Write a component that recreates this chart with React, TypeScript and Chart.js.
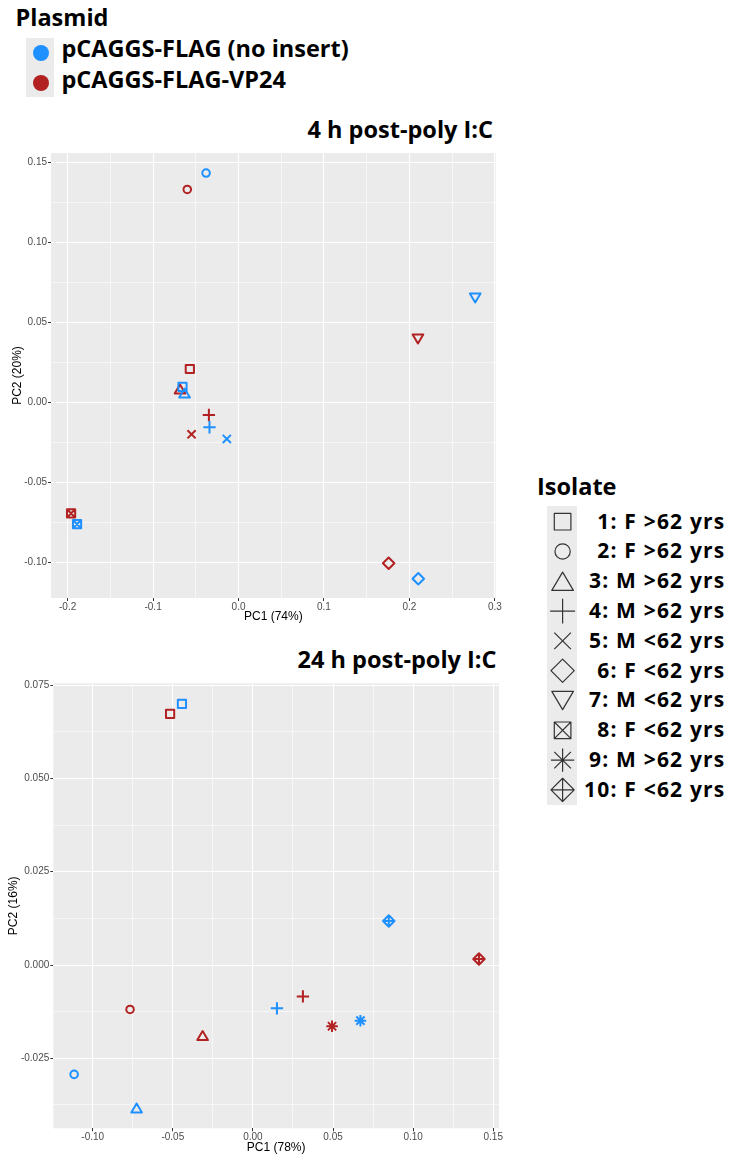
import React, { useEffect, useRef } from "react";
import { Chart, registerables } from "chart.js";

Chart.register(...registerables);

const BLUE = "#1E90FF";
const RED = "#B22222";
const PANEL_BG = "#EBEBEB";
const KEY_BG = "#EBEBEB";
const TITLE_FONT = "'Open Sans', 'DejaVu Sans', sans-serif";
const AXIS_FONT = "'Liberation Sans', Arial, sans-serif";

// ---------- legend data ----------
const plasmidLabels = ["pCAGGS-FLAG (no insert)", "pCAGGS-FLAG-VP24"];
const plasmidColors = [BLUE, RED];

const isolateLabels = [
  "1: F >62 yrs",
  "2: F >62 yrs",
  "3: M >62 yrs",
  "4: M >62 yrs",
  "5: M <62 yrs",
  "6: F <62 yrs",
  "7: M <62 yrs",
  "8: F <62 yrs",
  "9: M >62 yrs",
  "10: F <62 yrs",
];
const isolateShapes = [
  "square",
  "circle",
  "triangle",
  "plus",
  "cross",
  "diamond",
  "triangleDown",
  "squareCross",
  "asterisk",
  "diamondPlus",
];

// ---------- 4 h post-poly I:C ----------
const isolates4h = [1, 2, 3, 4, 5, 6, 7, 8];
const pc1NoInsert4h = [-0.0656, -0.038, -0.0632, -0.034, -0.0137, 0.2104, 0.277, -0.189];
const pc2NoInsert4h = [0.0096, 0.1433, 0.0058, -0.0156, -0.0229, -0.1103, 0.0652, -0.0761];
const pc1Vp24_4h = [-0.057, -0.06, -0.0685, -0.0347, -0.055, 0.1757, 0.21, -0.196];
const pc2Vp24_4h = [0.0208, 0.133, 0.0083, -0.0079, -0.02, -0.1006, 0.0396, -0.0694];
const xTicks4h = [-0.2, -0.1, 0, 0.1, 0.2, 0.3];
const xMinorTicks4h = [-0.15, -0.05, 0.05, 0.15, 0.25];
const yTicks4h = [-0.1, -0.05, 0, 0.05, 0.1, 0.15];
const yMinorTicks4h = [-0.075, -0.025, 0.025, 0.075, 0.125];
const xLimits4h = [-0.2195, 0.301];
const yLimits4h = [-0.1223, 0.1558];

// ---------- 24 h post-poly I:C ----------
const isolates24h = [1, 2, 3, 4, 9, 10];
const pc1NoInsert24h = [-0.0443, -0.1116, -0.0726, 0.015, 0.0671, 0.0848];
const pc2NoInsert24h = [0.07, -0.0293, -0.0383, -0.0116, -0.0149, 0.0118];
const pc1Vp24_24h = [-0.0517, -0.0767, -0.0314, 0.0312, 0.0494, 0.1411];
const pc2Vp24_24h = [0.0673, -0.0119, -0.0189, -0.0084, -0.0164, 0.0016];
const xTicks24h = [-0.1, -0.05, 0, 0.05, 0.1, 0.15];
const xMinorTicks24h = [-0.075, -0.025, 0.025, 0.075, 0.125];
const yTicks24h = [-0.025, 0, 0.025, 0.05, 0.075];
const yMinorTicks24h = [-0.0375, -0.0125, 0.0125, 0.0375, 0.0625];
const xLimits24h = [-0.1246, 0.1536];
const yLimits24h = [-0.04375, 0.0755];

// ---------- shape drawing ----------
function drawShape(
  ctx: CanvasRenderingContext2D,
  shape: string,
  x: number,
  y: number,
  u: number,
  lw: number,
  color: string
) {
  ctx.save();
  ctx.strokeStyle = color;
  ctx.lineWidth = lw;
  ctx.lineJoin = "round";
  ctx.lineCap = "butt";
  ctx.beginPath();
  const line = (x1: number, y1: number, x2: number, y2: number) => {
    ctx.moveTo(x1, y1);
    ctx.lineTo(x2, y2);
  };
  switch (shape) {
    case "square":
      ctx.rect(x - u, y - u, 2 * u, 2 * u);
      break;
    case "circle":
      ctx.arc(x, y, 0.92 * u, 0, Math.PI * 2);
      break;
    case "triangle": {
      const w = 1.3 * u, h = 2.2 * u;
      ctx.moveTo(x, y - h / 2);
      ctx.lineTo(x + w, y + h / 2);
      ctx.lineTo(x - w, y + h / 2);
      ctx.closePath();
      break;
    }
    case "triangleDown": {
      const w = 1.3 * u, h = 2.2 * u;
      ctx.moveTo(x, y + h / 2);
      ctx.lineTo(x + w, y - h / 2);
      ctx.lineTo(x - w, y - h / 2);
      ctx.closePath();
      break;
    }
    case "plus": {
      const a = 1.5 * u;
      line(x - a, y, x + a, y);
      line(x, y - a, x, y + a);
      break;
    }
    case "cross": {
      const a = 1.0 * u;
      line(x - a, y - a, x + a, y + a);
      line(x - a, y + a, x + a, y - a);
      break;
    }
    case "diamond": {
      const a = 1.4 * u;
      ctx.moveTo(x, y - a);
      ctx.lineTo(x + a, y);
      ctx.lineTo(x, y + a);
      ctx.lineTo(x - a, y);
      ctx.closePath();
      break;
    }
    case "squareCross": {
      ctx.rect(x - u, y - u, 2 * u, 2 * u);
      line(x - u, y - u, x + u, y + u);
      line(x - u, y + u, x + u, y - u);
      break;
    }
    case "asterisk": {
      const a = 1.4 * u, b = 1.0 * u;
      line(x - a, y, x + a, y);
      line(x, y - a, x, y + a);
      line(x - b, y - b, x + b, y + b);
      line(x - b, y + b, x + b, y - b);
      break;
    }
    case "diamondPlus": {
      const a = 1.4 * u;
      ctx.moveTo(x, y - a);
      ctx.lineTo(x + a, y);
      ctx.lineTo(x, y + a);
      ctx.lineTo(x - a, y);
      ctx.closePath();
      line(x - a, y, x + a, y);
      line(x, y - a, x, y + a);
      break;
    }
  }
  ctx.stroke();
  ctx.restore();
}

const panelBgPlugin = {
  id: "panelBg",
  beforeDraw(chart: any) {
    const { ctx, chartArea } = chart;
    ctx.save();
    ctx.fillStyle = PANEL_BG;
    ctx.fillRect(chartArea.left, chartArea.top, chartArea.right - chartArea.left, chartArea.bottom - chartArea.top);
    ctx.restore();
  },
};

const shapesPlugin = {
  id: "isolateShapes",
  afterDatasetsDraw(chart: any) {
    const ctx = chart.ctx;
    chart.data.datasets.forEach((ds: any, di: number) => {
      const meta = chart.getDatasetMeta(di);
      meta.data.forEach((el: any, i: number) => {
        const iso = ds.data[i].isolate;
        drawShape(ctx, isolateShapes[iso - 1], el.x, el.y, 4.1, 2, ds.borderColor);
      });
    });
  },
};

type PanelSpec = {
  isolates: number[];
  pc1NoInsert: number[];
  pc2NoInsert: number[];
  pc1Vp24: number[];
  pc2Vp24: number[];
  xTicks: number[];
  xMinor: number[];
  yTicks: number[];
  yMinor: number[];
  xLimits: number[];
  yLimits: number[];
  xDecimals: number;
  yDecimals: number;
  xTitle: string;
  yTitle: string;
  width: number;
  height: number;
  padTop: number;
  padRight: number;
  yAxisWidth: number;
  xAxisHeight: number;
  xTitlePadBottom: number;
  yTitlePadTop: number;
};

function mergedTicks(major: number[], minor: number[]) {
  const all = [
    ...major.map((v) => ({ value: v, minor: false })),
    ...minor.map((v) => ({ value: v, minor: true })),
  ];
  all.sort((a, b) => a.value - b.value);
  return all;
}

function buildConfig(p: PanelSpec): any {
  const red = p.isolates.map((iso, i) => ({ x: p.pc1Vp24[i], y: p.pc2Vp24[i], isolate: iso }));
  const blue = p.isolates.map((iso, i) => ({ x: p.pc1NoInsert[i], y: p.pc2NoInsert[i], isolate: iso }));
  const gridOpts = {
    drawOnChartArea: true,
    drawTicks: true,
    tickLength: 3,
    color: (c: any) => (c.tick && c.tick.minor ? "rgba(255,255,255,0.55)" : "#FFFFFF"),
    lineWidth: 1,
    tickColor: (c: any) => (c.tick && c.tick.minor ? "rgba(0,0,0,0)" : "#333333"),
    tickWidth: 1,
  };
  const tickFont = { family: AXIS_FONT, size: 10 };
  const titleFont = { family: AXIS_FONT, size: 12 };
  return {
    type: "scatter",
    data: {
      datasets: [
        { label: plasmidLabels[1], data: red, borderColor: RED, backgroundColor: RED, pointRadius: 0, pointHoverRadius: 0 },
        { label: plasmidLabels[0], data: blue, borderColor: BLUE, backgroundColor: BLUE, pointRadius: 0, pointHoverRadius: 0 },
      ],
    },
    options: {
      animation: false,
      responsive: false,
      maintainAspectRatio: false,
      events: [],
      layout: { padding: { top: p.padTop, right: p.padRight, left: 0, bottom: 0 } },
      plugins: { legend: { display: false }, tooltip: { enabled: false }, title: { display: false } },
      scales: {
        x: {
          type: "linear",
          min: p.xLimits[0],
          max: p.xLimits[1],
          afterBuildTicks: (s: any) => {
            s.ticks = mergedTicks(p.xTicks, p.xMinor);
          },
          afterFit: (s: any) => {
            s.height = p.xAxisHeight;
          },
          ticks: {
            autoSkip: false,
            maxRotation: 0,
            minRotation: 0,
            padding: 0,
            color: "#4D4D4D",
            font: tickFont,
            callback: (v: any, i: number, ticks: any[]) =>
              ticks[i] && ticks[i].minor ? "" : Number(v).toFixed(p.xDecimals),
          },
          grid: gridOpts,
          border: { display: false },
          title: {
            display: true,
            text: p.xTitle,
            color: "#000000",
            font: titleFont,
            padding: { top: 0, bottom: p.xTitlePadBottom },
          },
        },
        y: {
          type: "linear",
          min: p.yLimits[0],
          max: p.yLimits[1],
          afterBuildTicks: (s: any) => {
            s.ticks = mergedTicks(p.yTicks, p.yMinor);
          },
          afterFit: (s: any) => {
            s.width = p.yAxisWidth;
          },
          ticks: {
            autoSkip: false,
            padding: 1,
            color: "#4D4D4D",
            font: tickFont,
            callback: (v: any, i: number, ticks: any[]) =>
              ticks[i] && ticks[i].minor ? "" : Number(v).toFixed(p.yDecimals),
          },
          grid: gridOpts,
          border: { display: false },
          title: {
            display: true,
            text: p.yTitle,
            color: "#000000",
            font: titleFont,
            padding: { top: p.yTitlePadTop, bottom: 0 },
          },
        },
      },
    },
    plugins: [panelBgPlugin, shapesPlugin],
  };
}

function PcaPanel({ spec, left, top }: { spec: PanelSpec; left: number; top: number }) {
  const ref = useRef<HTMLCanvasElement | null>(null);
  useEffect(() => {
    if (!ref.current) return;
    const chart = new Chart(ref.current, buildConfig(spec));
    return () => chart.destroy();
  }, [spec]);
  return (
    <canvas
      ref={ref}
      width={spec.width}
      height={spec.height}
      style={{ position: "absolute", left, top, width: spec.width, height: spec.height }}
    />
  );
}

function IsolateKeys() {
  const ref = useRef<HTMLCanvasElement | null>(null);
  useEffect(() => {
    const c = ref.current;
    if (!c) return;
    const ctx = c.getContext("2d");
    if (!ctx) return;
    ctx.clearRect(0, 0, c.width, c.height);
    ctx.fillStyle = KEY_BG;
    ctx.fillRect(0, 0, c.width, c.height);
    isolateShapes.forEach((s, i) => {
      drawShape(ctx, s, 15.6, 15.7 + i * 29.8, 8.3, 1.2, "#333333");
    });
  }, []);
  return (
    <canvas
      ref={ref}
      width={30}
      height={299}
      style={{ position: "absolute", left: 547, top: 506, width: 30, height: 299 }}
    />
  );
}

const ASC = 0.888; // baseline offset (em) for Open Sans with line-height 1

function BoldText({
  text,
  baseline,
  size,
  left,
  right,
  letterSpacing,
}: {
  text: string;
  baseline: number;
  size: number;
  left?: number;
  right?: number;
  letterSpacing?: number;
}) {
  const style: any = {
    position: "absolute",
    top: baseline - ASC * size,
    fontFamily: TITLE_FONT,
    fontWeight: 700,
    fontSize: size,
    lineHeight: 1,
    whiteSpace: "nowrap",
    color: "#000",
  };
  if (left !== undefined) style.left = left;
  if (right !== undefined) style.right = right;
  if (letterSpacing !== undefined) style.letterSpacing = letterSpacing;
  return <div style={style}>{text}</div>;
}

const spec4h: PanelSpec = {
  isolates: isolates4h,
  pc1NoInsert: pc1NoInsert4h,
  pc2NoInsert: pc2NoInsert4h,
  pc1Vp24: pc1Vp24_4h,
  pc2Vp24: pc2Vp24_4h,
  xTicks: xTicks4h,
  xMinor: xMinorTicks4h,
  yTicks: yTicks4h,
  yMinor: yMinorTicks4h,
  xLimits: xLimits4h,
  yLimits: yLimits4h,
  xDecimals: 1,
  yDecimals: 2,
  xTitle: "PC1 (74%)",
  yTitle: "PC2 (20%)",
  width: 510,
  height: 490,
  padTop: 13,
  padRight: 14.3,
  yAxisWidth: 51,
  xAxisHeight: 32,
  xTitlePadBottom: 5.8,
  yTitlePadTop: 10.3,
};

const spec24h: PanelSpec = {
  isolates: isolates24h,
  pc1NoInsert: pc1NoInsert24h,
  pc2NoInsert: pc2NoInsert24h,
  pc1Vp24: pc1Vp24_24h,
  pc2Vp24: pc2Vp24_24h,
  xTicks: xTicks24h,
  xMinor: xMinorTicks24h,
  yTicks: yTicks24h,
  yMinor: yMinorTicks24h,
  xLimits: xLimits24h,
  yLimits: yLimits24h,
  xDecimals: 2,
  yDecimals: 3,
  xTitle: "PC1 (78%)",
  yTitle: "PC2 (16%)",
  width: 510,
  height: 480,
  padTop: 8.3,
  padRight: 11,
  yAxisWidth: 53.3,
  xAxisHeight: 26.7,
  xTitlePadBottom: 0.1,
  yTitlePadTop: 6.8,
};

export default function App() {
  return (
    <div
      style={{
        position: "absolute",
        left: 0,
        top: 0,
        width: 733,
        height: 1155,
        background: "#FFFFFF",
        overflow: "hidden",
      }}
    >
      {/* Plasmid legend */}
      <BoldText text="Plasmid" baseline={26.7} size={23.5} left={15.5} />
      <div style={{ position: "absolute", left: 26, top: 37.7, width: 28.3, height: 59, background: KEY_BG }} />
      {plasmidColors.map((c, i) => (
        <div
          key={c}
          style={{
            position: "absolute",
            left: 40.5 - 8,
            top: 53 + i * 30 - 8,
            width: 16,
            height: 16,
            borderRadius: "50%",
            background: c,
          }}
        />
      ))}
      {plasmidLabels.map((t, i) => (
        <BoldText key={t} text={t} baseline={58.3 + i * 31} size={23.5} left={61.5} />
      ))}

      {/* 4 h panel */}
      <BoldText text="4 h post-poly I:C" baseline={139.3} size={23.5} right={733 - 493} />
      <PcaPanel spec={spec4h} left={0} top={140} />

      {/* 24 h panel */}
      <BoldText text="24 h post-poly I:C" baseline={669.3} size={23.5} right={733 - 496.5} />
      <PcaPanel spec={spec24h} left={0} top={675} />

      {/* Isolate legend */}
      <BoldText text="Isolate" baseline={495.7} size={23.5} left={537} />
      <IsolateKeys />
      {isolateLabels.map((t, i) => (
        <BoldText key={t + i} text={t} baseline={529.3 + i * 29.8} size={21} right={733 - 725.5} letterSpacing={1.2} />
      ))}
    </div>
  );
}
